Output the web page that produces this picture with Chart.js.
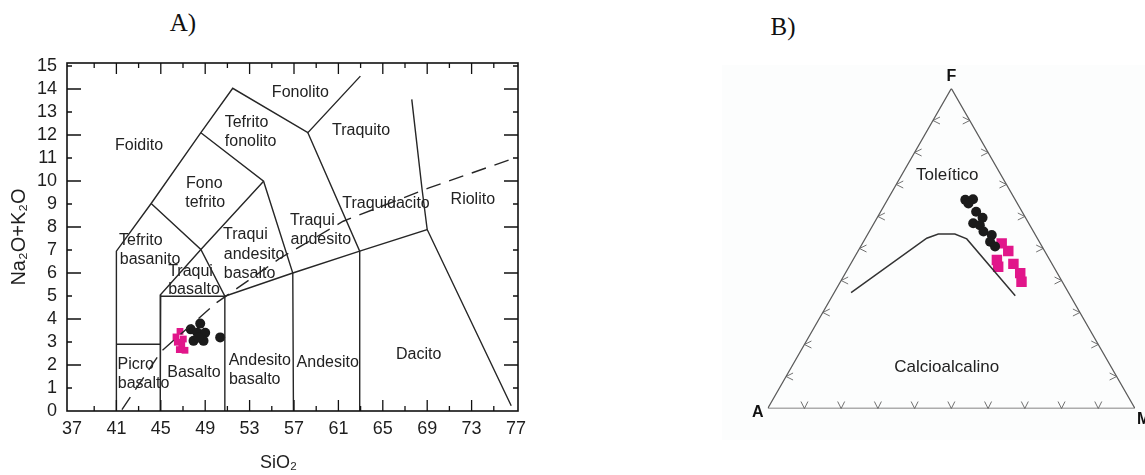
<!DOCTYPE html>
<html>
<head>
<meta charset="utf-8">
<script src="https://cdn.jsdelivr.net/npm/chart.js@4"></script>
<style>
  html, body { margin: 0; padding: 0; background: #fff; }
  body { width: 1145px; height: 475px; position: relative; overflow: hidden; }
  .panel-title { position: absolute; width: 60px; text-align: center;
    font-family: "Liberation Serif", "Times New Roman", serif; font-size: 25px; line-height: 25px; color: #111; }
  #afmBg { position: absolute; left: 722px; top: 65px; width: 423px; height: 375px; background: #fcfdfd; }
  #tasWrap { position: absolute; left: 0; top: 0; width: 545px; height: 475px; }
  #afmWrap { position: absolute; left: 560px; top: 0; width: 585px; height: 475px; }
</style>
</head>
<body>
<div class="panel-title" style="left:153px;top:10px">A)</div>
<div class="panel-title" style="left:753px;top:14px">B)</div>
<div id="afmBg"></div>
<div id="tasWrap"><canvas id="tas" width="545" height="475"></canvas></div>
<div id="afmWrap"><canvas id="afm" width="585" height="475"></canvas></div>
<script>
// ---------- TAS diagram (SiO2 vs Na2O+K2O, wt%) ----------
const sio2Circles = [47.7, 48.55, 48.3, 49.0, 47.95, 48.85, 48.4, 50.35];
const alkCircles  = [3.55, 3.8, 3.4, 3.4, 3.05, 3.05, 3.2, 3.2];
const sio2Squares = [46.73, 46.37, 47.03, 46.49, 46.89, 46.67, 47.18];
const alkSquares  = [3.46, 3.22, 3.13, 2.99, 2.89, 2.67, 2.64];

const sio2TickLabels = [37, 41, 45, 49, 53, 57, 61, 65, 69, 73, 77];
const alkTickLabels  = [0, 1, 2, 3, 4, 5, 6, 7, 8, 9, 10, 11, 12, 13, 14, 15];

// field boundaries, each a polyline of [SiO2, Na2O+K2O]
const tasBoundaries = [
  [[41, 0], [41, 6.95], [44.13, 9.02], [48.61, 12.1], [51.48, 14.03], [58.25, 12.1], [62.98, 14.56]],
  [[58.25, 12.1], [62.92, 6.95], [62.92, 0]],
  [[48.61, 12.1], [54.26, 9.99], [56.89, 6.0], [56.95, 0]],
  [[54.26, 9.99], [48.61, 7.02], [44.99, 5.06], [44.95, 0]],
  [[44.13, 9.02], [48.61, 7.02], [50.77, 4.99], [50.77, 0]],
  [[44.99, 4.99], [50.77, 4.99], [56.89, 6.0], [62.92, 6.95], [69.0, 7.89], [76.57, 0.23]],
  [[41, 2.9], [44.99, 2.9]],
  [[67.61, 13.55], [68.54, 9.63], [69.0, 7.89]]
];
// alkaline / subalkaline divide
const alkalineDivide = [[41.5, 0.06], [45.05, 2.6], [50.0, 4.7], [55.71, 6.63], [61.43, 8.25], [69.16, 9.7], [76.88, 11.0]];

const tasFieldNames = [
  ['Fonolito', 57.57, 13.84], ['Tefrito', 52.72, 12.56], ['fonolito', 53.09, 11.73],
  ['Foidito', 43.04, 11.52], ['Traquito', 63.04, 12.17],
  ['Fono', 48.92, 9.89], ['tefrito', 49.0, 9.08],
  ['Traquidacito', 65.29, 9.01], ['Riolito', 73.11, 9.17],
  ['Traqui', 58.65, 8.3], ['andesito', 59.42, 7.46],
  ['Tefrito', 43.2, 7.41], ['basanito', 44.03, 6.59],
  ['Traqui', 52.62, 7.67], ['andesito', 53.4, 6.8], ['basalto', 53.0, 5.98],
  ['Traqui', 47.68, 6.08], ['basalto', 47.99, 5.28],
  ['Andesito', 53.92, 2.2], ['basalto', 53.46, 1.36],
  ['Andesito', 60.04, 2.12], ['Dacito', 68.23, 2.45],
  ['Picro', 42.74, 2.02], ['basalto', 43.45, 1.17], ['Basalto', 47.99, 1.65]
];

// ---------- AFM diagram (A = Na2O+K2O, F = FeOt, M = MgO) ----------
const afmCirclesA = [13.6, 11.4, 13.3, 12.5, 11.7, 15.1, 13.6, 13.6, 11.9, 13.4, 12.8];
const afmCirclesF = [65.2, 65.4, 64.1, 61.5, 59.6, 57.9, 57.3, 55.3, 54.2, 52.1, 50.6];
const afmCirclesM = [21.2, 23.2, 22.6, 26.0, 28.7, 27.0, 29.1, 31.1, 33.9, 34.5, 36.6];
const afmSquaresA = [10.5, 9.9, 14.4, 15.1, 10.5, 10.1, 11.1];
const afmSquaresF = [51.6, 49.2, 46.4, 44.3, 45.2, 42.3, 39.6];
const afmSquaresM = [37.9, 40.9, 39.2, 40.6, 44.3, 47.6, 49.3];
// tholeiitic / calc-alkaline boundary
const afmDivideA = [59.2, 30.1, 26.3, 21.8, 19.3, 15.0];
const afmDivideF = [36.2, 53.2, 54.5, 54.5, 53.0, 35.2];
const afmDivideM = [4.6, 16.7, 19.2, 23.7, 27.7, 49.8];

const FONT = '"Liberation Sans", Arial, Helvetica, sans-serif';
const INK = '#1e1e1e';
const PINK = '#e1168a';
const DARK = '#1b1b1b';
Chart.defaults.font.family = FONT;
Chart.defaults.color = INK;

const toXY = (xs, ys) => xs.map((x, i) => ({ x, y: ys[i] }));
const pairs = pts => pts.map(p => ({ x: p[0], y: p[1] }));

// ---------- chart A ----------
const tasFrame = {
  id: 'tasFrame',
  beforeDatasetsDraw(chart) {
    const { ctx, chartArea: a, scales: { x, y } } = chart;
    ctx.save();
    ctx.fillStyle = '#222';
    ctx.font = '16px ' + FONT;
    ctx.textAlign = 'center';
    ctx.textBaseline = 'middle';
    tasFieldNames.forEach(([t, sx, sy]) => ctx.fillText(t, x.getPixelForValue(sx), y.getPixelForValue(sy)));
    // x-axis title, sitting a little left of the plot centre
    ctx.fillStyle = INK;
    ctx.font = '18px ' + FONT;
    ctx.fillText('SiO₂', (a.left + a.right) / 2 - 14, 463);
    ctx.restore();
  },
  afterDraw(chart) {
    const { ctx, chartArea: a, scales: { x, y } } = chart;
    ctx.save();
    ctx.strokeStyle = '#111';
    ctx.lineWidth = 1.6;
    ctx.strokeRect(a.left, a.top, a.right - a.left, a.bottom - a.top);
    ctx.lineWidth = 1.3;
    ctx.beginPath();
    for (let v = 39; v <= 75; v += 2) {
      const px = x.getPixelForValue(v);
      const len = (v - 37) % 4 === 0 ? 11 : 5;
      ctx.moveTo(px, a.bottom); ctx.lineTo(px, a.bottom - len);
      ctx.moveTo(px, a.top); ctx.lineTo(px, a.top + len);
    }
    for (let v = 1; v <= 15; v++) {
      const py = y.getPixelForValue(v);
      const len = v % 2 === 0 ? 14 : 5;
      ctx.moveTo(a.left, py); ctx.lineTo(a.left + len, py);
      ctx.moveTo(a.right, py); ctx.lineTo(a.right - len, py);
    }
    ctx.stroke();
    ctx.restore();
  }
};

const boundarySets = tasBoundaries.map(line => ({
  data: pairs(line), showLine: true, pointRadius: 0, borderColor: '#262626', borderWidth: 1.4, fill: false
}));

new Chart(document.getElementById('tas'), {
  type: 'scatter',
  data: {
    datasets: [
      ...boundarySets,
      { data: pairs(alkalineDivide), showLine: true, pointRadius: 0, borderColor: '#262626', borderWidth: 1.4, borderDash: [15, 9] },
      { data: toXY(sio2Squares, alkSquares), pointStyle: 'rect', pointRadius: 4.8, backgroundColor: PINK, borderWidth: 0 },
      { data: toXY(sio2Circles, alkCircles), pointStyle: 'circle', pointRadius: 5, backgroundColor: DARK, borderWidth: 0 }
    ]
  },
  options: {
    responsive: false, animation: false, events: [],
    layout: { padding: { left: 0, top: 63, right: 27, bottom: 0 } },
    plugins: { legend: { display: false }, tooltip: { enabled: false } },
    scales: {
      x: {
        type: 'linear', min: 36.55, max: 77.18,
        afterBuildTicks: s => { s.ticks = sio2TickLabels.map(v => ({ value: v })); },
        afterFit: s => { s.height = 64; },
        grid: { display: false, drawTicks: false, tickLength: 0 }, border: { display: false },
        ticks: { autoSkip: false, maxRotation: 0, padding: 7, font: { size: 18 }, color: INK },
        title: { display: false }
      },
      y: {
        type: 'linear', min: 0, max: 15.13,
        afterBuildTicks: s => { s.ticks = alkTickLabels.map(v => ({ value: v })); },
        afterFit: s => { s.width = 67; },
        grid: { display: false, drawTicks: false, tickLength: 0 }, border: { display: false },
        ticks: { autoSkip: false, padding: 10, font: { size: 18 }, color: INK },
        title: { display: true, text: 'Na₂O+K₂O', font: { size: 20 }, color: INK, padding: { top: 7, bottom: 0 } }
      }
    }
  },
  plugins: [tasFrame]
});

// ---------- chart B ----------
// ternary -> cartesian: x = M + F/2, y = F
const tern = (A, F, M) => F.map((f, i) => ({ x: M[i] + f / 2, y: f }));

const afmFrame = {
  id: 'afmFrame',
  beforeDatasetsDraw(chart) {
    const { ctx, scales: { x, y } } = chart;
    const P = (cx, cy) => [x.getPixelForValue(cx), y.getPixelForValue(cy)];
    ctx.save();
    ctx.strokeStyle = '#707070';
    ctx.lineWidth = 1;
    ctx.beginPath();
    for (let i = 1; i <= 9; i++) {
      const t = i * 10;
      let [bx, by] = P(t, 0);
      ctx.moveTo(bx - 3.5, by - 7); ctx.lineTo(bx, by); ctx.lineTo(bx + 3.5, by - 7);
      let [lx, ly] = P(t / 2, t);
      ctx.moveTo(lx + 7, ly - 3.5); ctx.lineTo(lx, ly); ctx.lineTo(lx + 7, ly + 3.5);
      let [rx, ry] = P(100 - t / 2, t);
      ctx.moveTo(rx - 7, ry - 3.5); ctx.lineTo(rx, ry); ctx.lineTo(rx - 7, ry + 3.5);
    }
    ctx.stroke();

    ctx.fillStyle = '#222';
    ctx.textAlign = 'center';
    ctx.textBaseline = 'middle';
    ctx.font = '17px ' + FONT;
    let [tx, ty] = P(12.5 + 72.75 / 2, 72.75);
    ctx.fillText('Toleítico', tx, ty);
    [tx, ty] = P(42.3 + 12.9 / 2, 12.9);
    ctx.fillText('Calcioalcalino', tx, ty);

    ctx.font = 'bold 16px ' + FONT;
    ctx.fillStyle = '#111';
    let [fx, fy] = P(50, 100);
    ctx.fillText('F', fx, fy - 12);
    let [ax, ay] = P(0, 0);
    ctx.fillText('A', ax - 10, ay + 4);
    let [mx, my] = P(100, 0);
    ctx.textAlign = 'left';
    ctx.fillText('M', mx + 2, my + 11);
    ctx.restore();
  }
};

new Chart(document.getElementById('afm'), {
  type: 'scatter',
  data: {
    datasets: [
      { data: [{ x: 0, y: 0 }, { x: 100, y: 0 }, { x: 50, y: 100 }, { x: 0, y: 0 }],
        showLine: true, pointRadius: 0, borderColor: '#5c5c5c', borderWidth: 1.3 },
      { data: tern(afmDivideA, afmDivideF, afmDivideM), showLine: true, pointRadius: 0,
        borderColor: '#333', borderWidth: 1.5 },
      { data: tern(afmCirclesA, afmCirclesF, afmCirclesM), pointStyle: 'circle', pointRadius: 5,
        backgroundColor: DARK, borderWidth: 0 },
      { data: tern(afmSquaresA, afmSquaresF, afmSquaresM), pointStyle: 'rect', pointRadius: 7.4,
        backgroundColor: PINK, borderWidth: 0 }
    ]
  },
  options: {
    responsive: false, animation: false, events: [],
    layout: { padding: { left: 207.7, top: 88.5, right: 10, bottom: 66.5 } },
    plugins: { legend: { display: false }, tooltip: { enabled: false } },
    scales: {
      x: { type: 'linear', min: 0, max: 100, display: false },
      y: { type: 'linear', min: 0, max: 100, display: false }
    }
  },
  plugins: [afmFrame]
});
</script>
</body>
</html>
